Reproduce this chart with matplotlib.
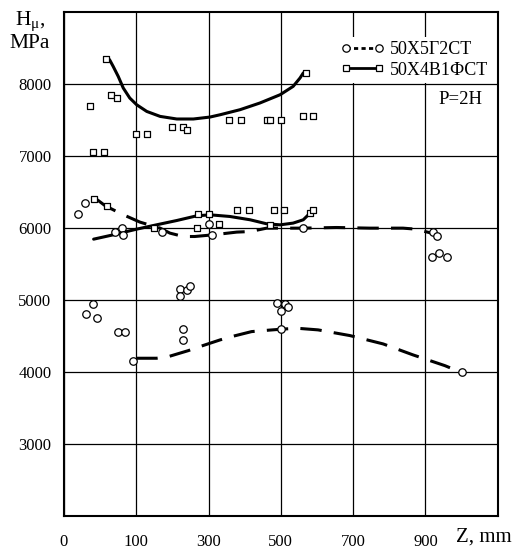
import numpy as np
import matplotlib
matplotlib.use("Agg")
import matplotlib.pyplot as plt
from matplotlib.lines import Line2D

plt.rcParams['font.family'] = ['Liberation Serif', 'DejaVu Serif']
plt.rcParams['mathtext.fontset'] = 'stix'

# ---- data (Z in mm, H in MPa) ----
sq_z = [58, 65, 73, 36, 100, 130, 200, 230, 240, 40, 55, 357, 390, 461, 471, 501, 560, 590, 569,
        41, 60, 150, 269, 271, 301, 330, 380, 411, 470, 481, 509, 580, 590]
sq_h = [8350, 7850, 7800, 7700, 7305, 7300, 7400, 7400, 7355, 7060, 7060, 7500, 7500, 7500, 7500, 7500, 7550, 7550, 8155,
        6400, 6300, 6000, 6000, 6200, 6200, 6055, 6250, 6250, 6045, 6250, 6250, 6205, 6250]

ci_z = [29, 20, 71, 80, 81, 170, 302, 310, 562, 922, 931, 919, 938, 960,
        40, 30, 45, 75, 85, 95, 221, 221, 240, 250, 230, 230, 490, 511, 500, 520, 500, 1000]
ci_h = [6345, 6195, 5945, 6005, 5905, 5945, 6055, 5905, 6000, 5945, 5890, 5595, 5650, 5595,
        4950, 4800, 4745, 4550, 4550, 4150, 5155, 5050, 5140, 5200, 4595, 4445, 4955, 4945, 4850, 4900, 4595, 4000]

# fitted curves
sq_top_z = [58, 63, 68, 75, 82, 91, 101, 129, 166, 212, 258, 304, 332, 387, 442, 498, 534, 553, 562, 569]
sq_top_h = [8352, 8338, 8245, 8106, 7944, 7805, 7712, 7619, 7550, 7514, 7514, 7541, 7573, 7643, 7736, 7851, 7967, 8083, 8153, 8157]

sq_mid_z = [41, 68, 101, 156, 212, 267, 304, 359, 415, 461, 498, 534, 562, 576, 585]
sq_mid_h = [5845, 5905, 5984, 6044, 6104, 6169, 6183, 6160, 6114, 6058, 6044, 6068, 6114, 6183, 6229]

ci_mid_z = [46, 57, 80, 110, 166, 193, 230, 262, 312, 378, 415, 461, 562, 654, 746, 838, 871, 917]
ci_mid_h = [6392, 6309, 6193, 6082, 5998, 5929, 5882, 5882, 5905, 5943, 5951, 5998, 5998, 6007, 5998, 5998, 5985, 5929]

ci_low_z = [100, 156, 189, 244, 276, 332, 364, 419, 451, 500, 544, 603, 691, 783, 866, 954, 968]
ci_low_h = [4191, 4191, 4214, 4297, 4353, 4446, 4492, 4561, 4575, 4594, 4608, 4585, 4506, 4390, 4237, 4088, 4059]

x_ticks = [0, 100, 300, 500, 700, 900]
x_labels = ["0", "100", "300", "500", "700", "900"]
y_ticks = [3000, 4000, 5000, 6000, 7000, 8000]
y_labels = ["3000", "4000", "5000", "6000", "7000", "8000"]

labels = ["50Х5Г2СТ", "50Х4В1ФСТ"]


def fwd(z):
    z = np.asarray(z, dtype=float)
    return np.where(z < 100, z / 100.0, 1 + (z - 100) / 200.0)


def inv(p):
    p = np.asarray(p, dtype=float)
    return np.where(p < 1, p * 100.0, 100 + (p - 1) * 200.0)


fig = plt.figure(figsize=(5.15, 5.49), dpi=100)
ax = fig.add_axes([64 / 515, 1 - 516 / 549, (497.7 - 64) / 515, (516 - 12) / 549])
ax.set_xscale('function', functions=(fwd, inv))
ax.set_xlim(0, 1100)
ax.set_ylim(2000, 9000)

ax.set_xticks(x_ticks)
ax.set_xticklabels(x_labels)
ax.set_yticks(y_ticks)
ax.set_yticklabels(y_labels)
ax.minorticks_off()
ax.tick_params(axis='both', length=0, labelsize=12)
ax.tick_params(axis='x', pad=13)
ax.tick_params(axis='y', pad=9)
ax.grid(True, color='black', lw=0.9)
ax.set_axisbelow(True)
for s in ax.spines.values():
    s.set_linewidth(1.5)

# curves
ax.plot(sq_top_z, sq_top_h, color='black', lw=2.2, solid_capstyle='round', zorder=3)
ax.plot(sq_mid_z, sq_mid_h, color='black', lw=2.2, solid_capstyle='round', zorder=3)
ax.plot(ci_mid_z, ci_mid_h, color='black', lw=2.2, ls=(0, (7, 4)), zorder=3)
ax.plot(ci_low_z, ci_low_h, color='black', lw=2.2, ls=(0, (7, 4)), zorder=3)

# markers
ax.scatter(sq_z, sq_h, marker='s', s=24, facecolor='white', edgecolor='black', lw=0.9, zorder=4)
ax.scatter(ci_z, ci_h, marker='o', s=29, facecolor='white', edgecolor='black', lw=0.9, zorder=4)

# legend
h1 = Line2D([], [], color='black', lw=2, ls=(0, (1.5, 1.2)), marker='o', ms=5.3,
            mfc='white', mec='black', mew=0.9)
h2 = Line2D([], [], color='black', lw=2, ls='-', marker='s', ms=4.9,
            mfc='white', mec='black', mew=0.9)
leg = ax.legend([h1, h2], labels, loc='upper right', bbox_to_anchor=(1.0, 0.962),
                numpoints=2, frameon=True, fancybox=False, edgecolor='none',
                facecolor='white', framealpha=1, fontsize=13, handlelength=2.4,
                handletextpad=0.3, labelspacing=0.2, borderaxespad=0.3, borderpad=0.25)

ax.text((460 - 64) / 433.7, 1 - (100 - 12) / 504, "P=2H", transform=ax.transAxes,
        ha='center', va='center', fontsize=13.5)
ax.text((456 - 64) / 433.7, -(537 - 516) / 504, "Z, mm", transform=ax.transAxes,
        ha='left', va='center', fontsize=15)

fig.text(30 / 515, 1 - 21 / 549, "H$_\\mathregular{μ}$,", ha='center', va='center', fontsize=15.5)
fig.text(30 / 515, 1 - 43 / 549, "MPa", ha='center', va='center', fontsize=15.5)

fig.savefig("out.png", dpi=100)
